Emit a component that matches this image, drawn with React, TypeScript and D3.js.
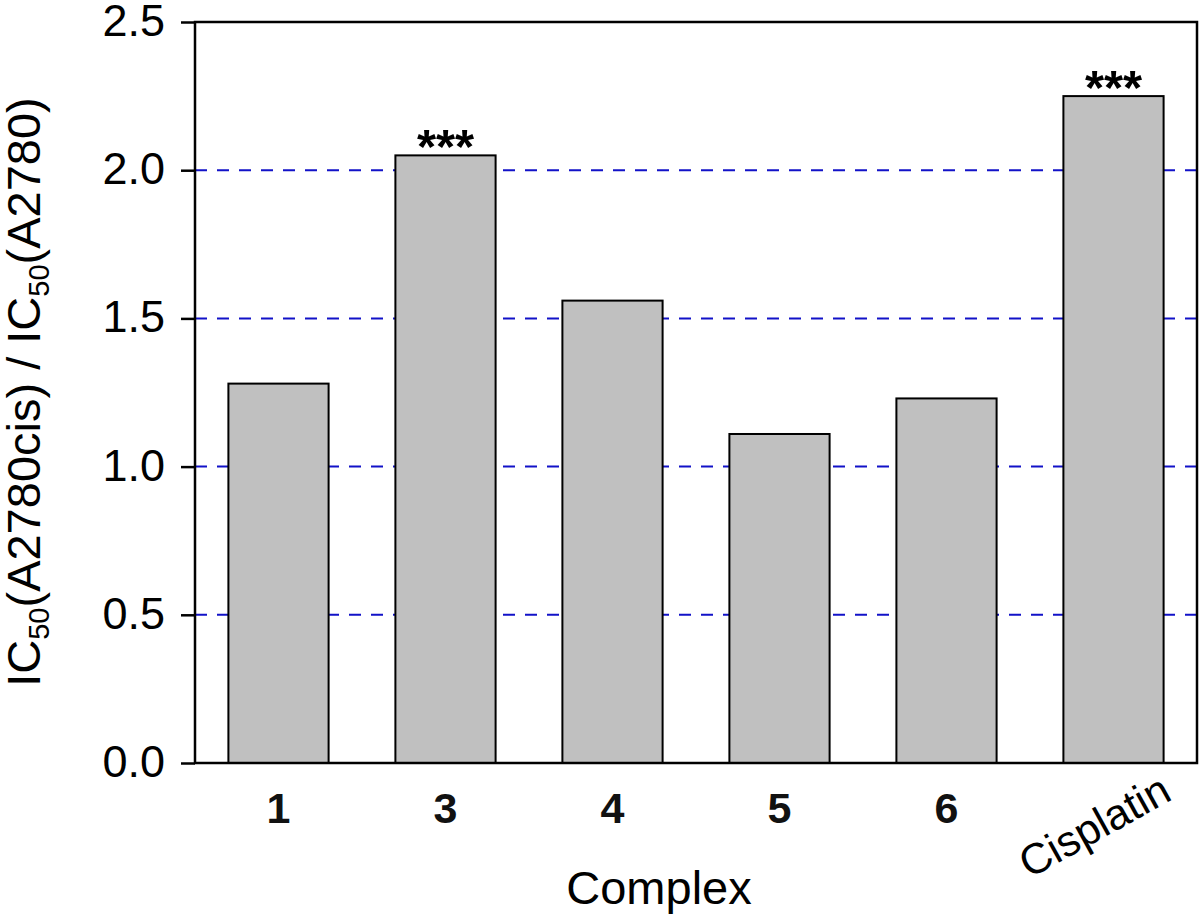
import React, { useEffect, useRef } from 'react'
import * as d3 from 'd3'

const categories = ['1', '3', '4', '5', '6', 'Cisplatin']
const ratios = [1.28, 2.05, 1.56, 1.11, 1.23, 2.25]
const marks = ['', '***', '', '', '', '***']
const yTicks = [0, 0.5, 1.0, 1.5, 2.0, 2.5]
const gridVals = [0.5, 1.0, 1.5, 2.0]

const FONT = 'Arial, Liberation Sans, sans-serif'

export default function App() {
  const ref = useRef<SVGSVGElement>(null)

  useEffect(() => {
    const W = 1200, H = 917
    const margin = { top: 22, right: 3, bottom: 154, left: 195 }
    const width = W - margin.left - margin.right
    const height = H - margin.top - margin.bottom

    const root = d3.select(ref.current)
    root.selectAll('*').remove()
    const svg = root.append('g').attr('transform', `translate(${margin.left},${margin.top})`)

    const x = d3.scaleBand().domain(categories).range([0, width]).paddingInner(0.4).paddingOuter(0.2)
    const y = d3.scaleLinear().domain([0, 2.5]).range([height, 0])

    // dashed grid
    svg.append('g').selectAll('line').data(gridVals).enter().append('line')
      .attr('x1', 0).attr('x2', width)
      .attr('y1', d => y(d)).attr('y2', d => y(d))
      .attr('stroke', '#1212c8').attr('stroke-width', 2)
      .attr('stroke-dasharray', '12,10')

    // bars
    svg.append('g').selectAll('rect').data(ratios).enter().append('rect')
      .attr('x', (d, i) => x(categories[i])!)
      .attr('y', d => y(d))
      .attr('width', x.bandwidth())
      .attr('height', d => height - y(d))
      .attr('fill', '#c0c0c0').attr('stroke', '#000').attr('stroke-width', 2)

    // significance stars
    svg.append('g').selectAll('text').data(ratios).enter().append('text')
      .attr('x', (d, i) => x(categories[i])! + x.bandwidth() / 2)
      .attr('y', d => y(d) + 8)
      .attr('text-anchor', 'middle')
      .style('font-family', FONT)
      .style('font-size', '49px').style('font-weight', 'bold')
      .text((d, i) => marks[i])

    // frame
    svg.append('rect').attr('width', width).attr('height', height)
      .attr('fill', 'none').attr('stroke', '#000').attr('stroke-width', 2.5)

    // y axis
    const yAxis = d3.axisLeft(y).tickValues(yTicks).tickFormat(d3.format('.1f')).tickSize(14).tickPadding(16)
    const ya = svg.append('g').call(yAxis)
    ya.select('.domain').remove()
    ya.selectAll('line').attr('stroke', '#000').attr('stroke-width', 2.5)
    ya.selectAll('text').attr('fill', '#000').attr('dy', '0.3em')
      .style('font-family', FONT).style('font-size', '45px')

    // x labels
    categories.forEach((c, i) => {
      const cx = x(c)! + x.bandwidth() / 2
      if (c === 'Cisplatin') {
        svg.append('text')
          .attr('transform', `translate(${cx - 12},${height + 76}) rotate(-29)`)
          .attr('text-anchor', 'middle')
          .style('font-family', FONT).style('font-size', '43px')
          .text(c)
      } else {
        svg.append('text')
          .attr('x', cx).attr('y', height + 60)
          .attr('text-anchor', 'middle')
          .style('font-family', FONT).style('font-size', '43px').style('font-weight', 'bold')
          .attr('fill', '#111')
          .text(c)
      }
    })

    // x title
    root.append('text')
      .attr('x', 659).attr('y', 904)
      .attr('text-anchor', 'middle')
      .style('font-family', FONT).style('font-size', '47px')
      .text('Complex')

    // y title
    const yt = root.append('text')
      .attr('transform', 'translate(40,392) rotate(-90)')
      .attr('text-anchor', 'middle')
      .style('font-family', FONT).style('font-size', '47px')
    yt.append('tspan').text('IC')
    yt.append('tspan').attr('dy', 9).style('font-size', '29px').text('50')
    yt.append('tspan').attr('dy', -9).text('(A2780cis) / IC')
    yt.append('tspan').attr('dy', 9).style('font-size', '29px').text('50')
    yt.append('tspan').attr('dy', -9).text('(A2780)')
  }, [])

  return <svg ref={ref} width={1200} height={917} style={{ display: 'block', position: 'absolute', left: 0, top: 0 }} />
}
